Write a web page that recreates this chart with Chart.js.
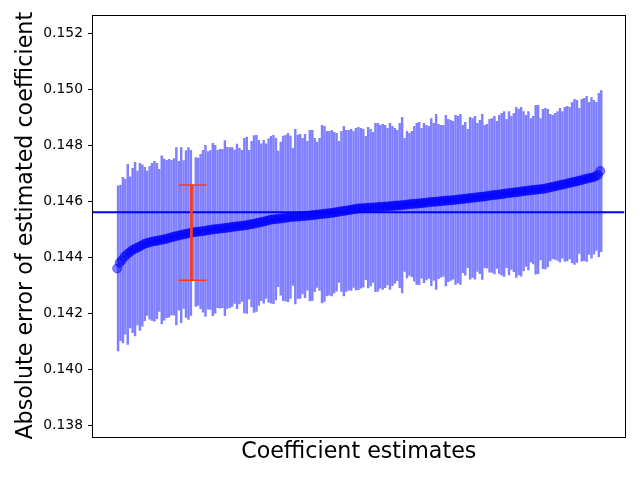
<!DOCTYPE html>
<html>
<head>
<meta charset="utf-8">
<script src="https://cdn.jsdelivr.net/npm/chart.js@4.4.0/dist/chart.umd.min.js"></script>
<style>
  html, body { margin: 0; padding: 0; background: #fff; }
  canvas { display: block; }
</style>
</head>
<body>
<canvas id="chart" width="640" height="480"></canvas>
<script>
// sorted coefficient estimates (error value for each sample)
const means = [
  0.14360,0.14380,0.14390,0.14402,0.14410,0.14417,0.14424,0.14429,0.14433,0.14437,
  0.14442,0.14447,0.14450,0.14452,0.14455,0.14457,0.14458,0.14460,0.14462,0.14463,
  0.14465,0.14468,0.14470,0.14473,0.14475,0.14477,0.14479,0.14481,0.14483,0.14485,
  0.14487,0.14488,0.14490,0.14491,0.14492,0.14493,0.14494,0.14496,0.14497,0.14499,
  0.14500,0.14501,0.14502,0.14503,0.14504,0.14505,0.14506,0.14508,0.14509,0.14510,
  0.14511,0.14512,0.14513,0.14514,0.14516,0.14518,0.14519,0.14521,0.14523,0.14525,
  0.14527,0.14529,0.14531,0.14534,0.14535,0.14536,0.14537,0.14538,0.14539,0.14540,
  0.14542,0.14543,0.14544,0.14545,0.14545,0.14546,0.14547,0.14547,0.14548,0.14549,
  0.14550,0.14551,0.14552,0.14553,0.14554,0.14555,0.14556,0.14557,0.14558,0.14559,
  0.14561,0.14562,0.14564,0.14565,0.14566,0.14568,0.14569,0.14571,0.14572,0.14574,
  0.14575,0.14575,0.14576,0.14577,0.14577,0.14578,0.14578,0.14579,0.14580,0.14580,
  0.14581,0.14581,0.14582,0.14583,0.14584,0.14585,0.14585,0.14586,0.14587,0.14588,
  0.14589,0.14590,0.14591,0.14591,0.14592,0.14593,0.14594,0.14595,0.14596,0.14597,
  0.14598,0.14598,0.14599,0.14600,0.14601,0.14602,0.14603,0.14603,0.14604,0.14605,
  0.14606,0.14607,0.14608,0.14609,0.14610,0.14611,0.14612,0.14613,0.14614,0.14615,
  0.14616,0.14617,0.14618,0.14620,0.14621,0.14622,0.14623,0.14624,0.14625,0.14626,
  0.14628,0.14629,0.14630,0.14631,0.14632,0.14633,0.14634,0.14636,0.14637,0.14638,
  0.14639,0.14640,0.14641,0.14642,0.14643,0.14644,0.14645,0.14647,0.14649,0.14651,
  0.14653,0.14655,0.14657,0.14659,0.14661,0.14663,0.14665,0.14667,0.14669,0.14671,
  0.14673,0.14675,0.14678,0.14680,0.14682,0.14684,0.14686,0.14689,0.14694,0.14708
];

// half length of each blue error bar
const errs = [
  0.00295,0.00278,0.00296,0.00277,0.00322,0.00270,0.00294,0.00310,0.00275,0.00299,
  0.00288,0.00274,0.00258,0.00273,0.00281,0.00286,0.00278,0.00254,0.00300,0.00288,
  0.00281,0.00282,0.00276,0.00280,0.00317,0.00266,0.00313,0.00264,0.00298,0.00307,
  0.00295,0.00170,0.00266,0.00263,0.00276,0.00289,0.00306,0.00282,0.00284,0.00308,
  0.00300,0.00281,0.00284,0.00283,0.00313,0.00288,0.00286,0.00284,0.00274,0.00294,
  0.00278,0.00270,0.00312,0.00315,0.00266,0.00296,0.00316,0.00315,0.00295,0.00280,
  0.00291,0.00276,0.00292,0.00298,0.00301,0.00289,0.00242,0.00274,0.00294,0.00296,
  0.00301,0.00290,0.00245,0.00312,0.00292,0.00293,0.00278,0.00292,0.00266,0.00305,
  0.00304,0.00274,0.00260,0.00272,0.00317,0.00313,0.00294,0.00293,0.00296,0.00287,
  0.00282,0.00252,0.00286,0.00303,0.00288,0.00286,0.00288,0.00279,0.00289,0.00290,
  0.00286,0.00282,0.00256,0.00287,0.00280,0.00268,0.00301,0.00300,0.00291,0.00295,
  0.00290,0.00280,0.00297,0.00285,0.00277,0.00269,0.00294,0.00314,0.00238,0.00262,
  0.00254,0.00260,0.00277,0.00288,0.00290,0.00268,0.00285,0.00276,0.00272,0.00299,
  0.00281,0.00313,0.00276,0.00271,0.00270,0.00305,0.00290,0.00286,0.00282,0.00302,
  0.00298,0.00304,0.00263,0.00273,0.00247,0.00289,0.00284,0.00291,0.00265,0.00274,
  0.00295,0.00254,0.00257,0.00273,0.00275,0.00282,0.00263,0.00283,0.00289,0.00295,
  0.00265,0.00292,0.00274,0.00283,0.00304,0.00296,0.00302,0.00285,0.00270,0.00283,
  0.00257,0.00264,0.00302,0.00301,0.00253,0.00285,0.00287,0.00282,0.00262,0.00256,
  0.00261,0.00266,0.00275,0.00262,0.00275,0.00276,0.00271,0.00287,0.00295,0.00290,
  0.00259,0.00289,0.00290,0.00295,0.00272,0.00287,0.00275,0.00265,0.00292,0.00288
];

const refLine = 0.14561;      // horizontal reference line
const redIndex = 31;          // highlighted sample
const redMean = 0.14488;
const redErr = 0.00170;
const yTicks = [0.138, 0.140, 0.142, 0.144, 0.146, 0.148, 0.150, 0.152];

const xMin = -0.05 * (means.length - 1);
const xMax = (means.length - 1) * 1.05;

const idx = means.map((_, i) => i);

// draw the black box round the plot like matplotlib spines
const frame = {
  id: 'frame',
  afterDraw(chart) {
    const a = chart.chartArea, ctx = chart.ctx;
    ctx.save();
    ctx.strokeStyle = '#000';
    ctx.lineWidth = 1;
    ctx.strokeRect(Math.round(a.left) - 0.5, Math.round(a.top) - 0.5,
                   Math.round(a.right - a.left) + 1, Math.round(a.bottom - a.top) + 1);
    ctx.restore();
  }
};

new Chart(document.getElementById('chart'), {
  type: 'bar',
  data: {
    datasets: [
      {
        type: 'bar',
        data: idx.map(i => ({ x: i, y: [means[i] - errs[i], means[i] + errs[i]] })),
        backgroundColor: '#8080ff',
        borderWidth: 0,
        barThickness: 1.8,
        order: 5
      },
      {
        type: 'scatter',
        data: idx.map(i => ({ x: i, y: means[i] })),
        backgroundColor: 'rgba(0,0,255,0.5)',
        borderColor: 'rgba(0,0,255,0.5)',
        borderWidth: 1,
        pointRadius: 4.5,
        order: 4
      },
      {
        type: 'line',
        data: [{ x: xMin, y: refLine }, { x: xMax, y: refLine }],
        borderColor: '#0000ff',
        borderWidth: 2,
        pointRadius: 0,
        order: 3
      },
      {
        type: 'bar',
        data: [{ x: redIndex, y: [redMean - redErr, redMean + redErr] }],
        backgroundColor: '#ff3a10',
        borderWidth: 0,
        barThickness: 2,
        order: 2
      },
      {
        type: 'scatter',
        data: [{ x: redIndex, y: redMean - redErr }, { x: redIndex, y: redMean + redErr }],
        pointStyle: 'line',
        pointRadius: 14,
        borderColor: '#ff3a10',
        borderWidth: 1.5,
        order: 1
      }
    ]
  },
  options: {
    responsive: false,
    animation: false,
    devicePixelRatio: 1,
    layout: { padding: { top: 15, right: 15, left: 0, bottom: 0 } },
    plugins: {
      legend: { display: false },
      tooltip: { enabled: false }
    },
    scales: {
      x: {
        type: 'linear',
        min: xMin,
        max: xMax,
        offset: false,
        grid: { display: false },
        border: { display: false },
        ticks: { display: false },
        title: {
          display: true,
          text: 'Coefficient estimates',
          color: '#000',
          font: { family: 'DejaVu Sans', size: 22.2 },
          padding: { top: 0, bottom: 14.5 }
        },
        afterFit: s => { s.height = 44; }
      },
      y: {
        type: 'linear',
        min: 0.13761,
        max: 0.15264,
        afterBuildTicks: s => { s.ticks = yTicks.map(v => ({ value: v })); },
        grid: { display: true, drawOnChartArea: false, drawTicks: true, tickLength: 5, color: '#000' },
        border: { display: false },
        ticks: {
          color: '#000',
          padding: 5,
          font: { family: 'DejaVu Sans', size: 13.9 },
          callback: v => v.toFixed(3)
        },
        title: {
          display: true,
          text: 'Absolute error of estimated coefficient',
          color: '#000',
          font: { family: 'DejaVu Sans', size: 22.2 },
          padding: { top: 12.5, bottom: 0 }
        },
        afterFit: s => { s.width = 93; }
      }
    }
  },
  plugins: [frame]
});
</script>
</body>
</html>
